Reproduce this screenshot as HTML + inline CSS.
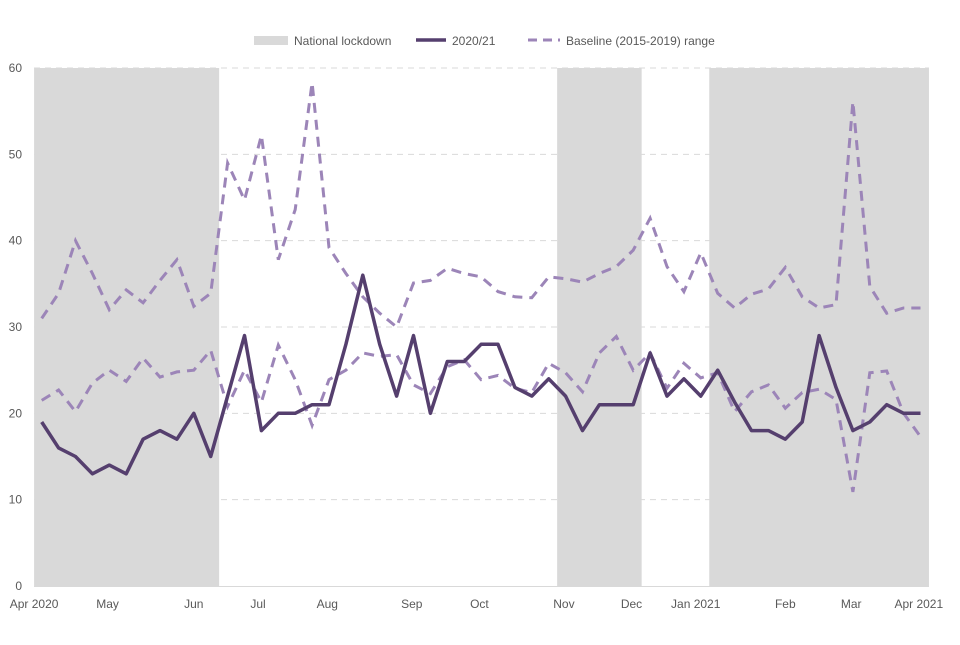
<!DOCTYPE html>
<html><head><meta charset="utf-8"><style>
body{margin:0;background:#fff;font-family:"Liberation Sans",sans-serif}
svg text{font-family:"Liberation Sans",sans-serif;font-size:12px;fill:#595959}
</style></head><body>
<svg id="chart" width="960" height="640">
<g id="legend">
 <rect x="254" y="36" width="34" height="9" fill="#d9d9d9"/>
 <text x="294" y="45">National lockdown</text>
 <line x1="416" y1="40" x2="446" y2="40" stroke="#553f6e" stroke-width="3.5"/>
 <text x="452" y="45">2020/21</text>
 <line x1="528" y1="40" x2="560" y2="40" stroke="#9c85b8" stroke-width="3" stroke-dasharray="9,6"/>
 <text x="566" y="45">Baseline (2015-2019) range</text>
</g>
<g id="grid"></g><g id="bands"></g><g id="series"></g><g id="axes"></g>
</svg>
<script>
const yTicks=[0,10,20,30,40,50,60];
const monthLabels=["Apr 2020","May","Jun","Jul","Aug","Sep","Oct","Nov","Dec","Jan 2021","Feb","Mar","Apr 2021"];
const monthWeek=[-0.45,3.9,9,12.8,16.9,21.9,25.9,30.9,34.9,38.7,44,47.9,51.9];
const lockdowns=[[-0.45,10.5],[30.5,35.5],[39.5,52.5]];
const actual=[19,16,15,13,14,13,17,18,17,20,15,22,29,18,20,20,21,21,28,36,28,22,29,20,26,26,28,28,23,22,24,22,18,21,21,21,27,22,24,22,25,21.3,18,18,17,19,29,23,18,19,21,20,20];
const baseHigh=[31,33.9,40,36.2,32,34.3,32.8,35.4,37.8,32.4,33.9,49,44.7,52.2,37.8,43.6,58.3,39.2,36.2,33.5,31.6,30,35.1,35.4,36.8,36.2,35.8,34.1,33.5,33.4,35.8,35.6,35.2,36.2,37,38.9,42.6,37,34.1,38.6,33.9,32.2,33.8,34.4,36.9,33.5,32.2,32.6,56.1,34.7,31.6,32.2,32.2];
const baseLow=[21.5,22.7,20.2,23.5,25,23.7,26.4,24.2,24.8,25,27.3,20.8,25,21.3,27.9,23.9,18.6,23.9,25,27,26.6,26.8,23.3,22.3,25.4,26.2,23.9,24.4,22.9,22.4,25.8,24.7,22.5,27,28.9,25,27,22.9,25.8,24.1,24.7,20.2,22.5,23.3,20.6,22.4,22.8,21.6,10.9,24.7,24.9,20,17.3];
const X=w=>41.7+w*16.9, Y=v=>586-v*8.633;
const NS="http://www.w3.org/2000/svg";
function mk(t,a,p){const e=document.createElementNS(NS,t);for(const k in a)e.setAttribute(k,a[k]);document.getElementById(p).appendChild(e);return e;}
yTicks.forEach(v=>{
 if(v>0){const g=mk('line',{x1:34,x2:929,y1:Y(v),y2:Y(v),stroke:'#d9d9d9','stroke-dasharray':'6,5'},'grid');
 
 }
 const t=mk('text',{x:22,y:Y(v)+4,'text-anchor':'end'},'axes');t.textContent=v;
 
 
});
lockdowns.forEach((l,i)=>{
 const x1=Math.max(34,X(l[0])),x2=Math.min(929,X(l[1]));
 const r=mk('rect',{x:x1,y:68,width:x2-x1,height:518,fill:'#d9d9d9'},'bands');
 
 
});
function path(arr){return arr.map((v,i)=>(i?'L':'M')+X(i).toFixed(1)+','+Y(v).toFixed(1)).join('');}
const ph=mk('path',{d:path(baseHigh),fill:'none',stroke:'#9c85b8','stroke-width':3,'stroke-dasharray':'10,7'},'series');


const pl=mk('path',{d:path(baseLow),fill:'none',stroke:'#9c85b8','stroke-width':3,'stroke-dasharray':'10,7'},'series');


const pa=mk('path',{d:path(actual),fill:'none',stroke:'#553f6e','stroke-width':3.5,'stroke-linejoin':'round'},'series');


const ax=mk('line',{x1:34,x2:929,y1:586.5,y2:586.5,stroke:'#d9d9d9'},'axes');


monthLabels.forEach((m,i)=>{
 const t=mk('text',{x:X(monthWeek[i]),y:608,'text-anchor':'middle'},'axes');t.textContent=m;
 
 
});
</script>
</body></html>
